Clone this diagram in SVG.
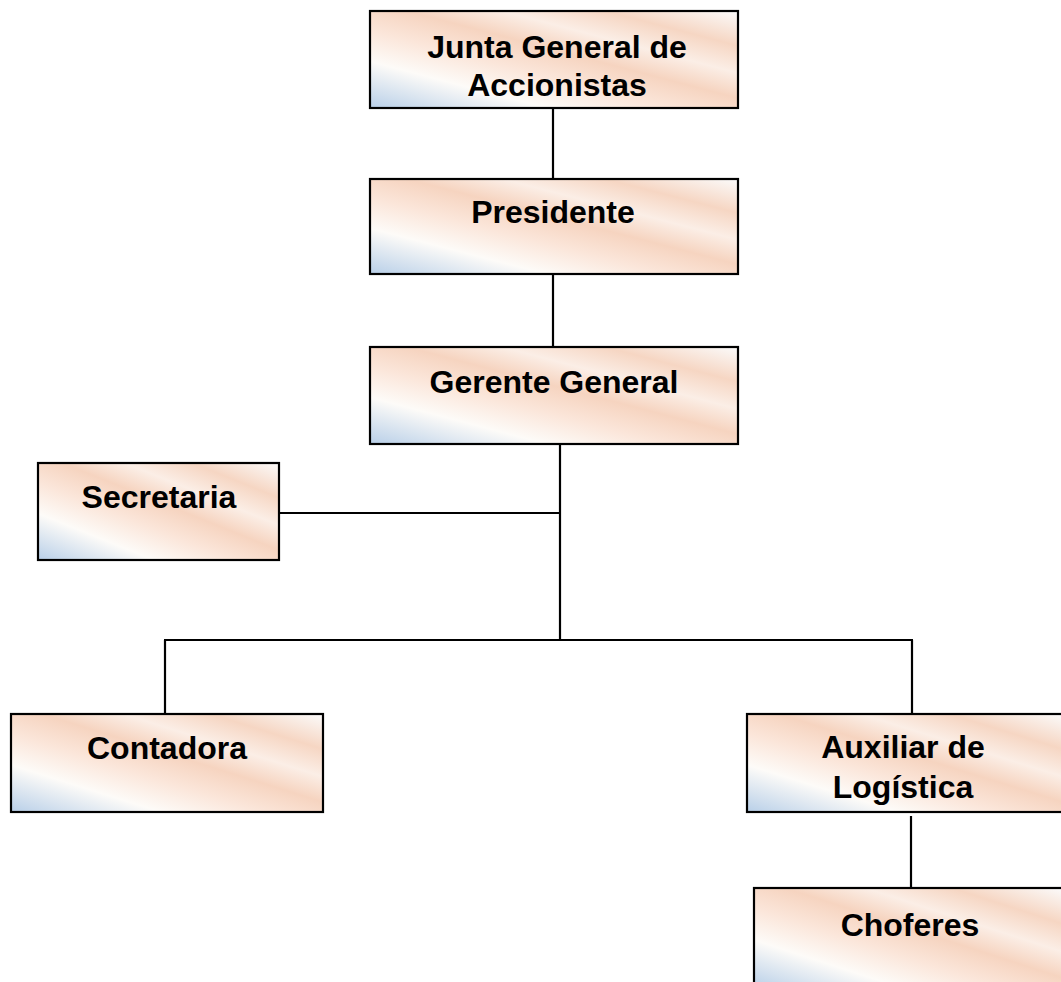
<svg xmlns="http://www.w3.org/2000/svg" width="1061" height="982" viewBox="0 0 1061 982">
<defs>
<linearGradient id="g" x1="0" y1="1" x2="1" y2="0" gradientUnits="objectBoundingBox">
<stop offset="0" stop-color="#b8cfe8"/>
<stop offset="0.24" stop-color="#fdfbf8"/>
<stop offset="0.4" stop-color="#fbe6da"/>
<stop offset="0.55" stop-color="#f6d4c0"/>
<stop offset="0.68" stop-color="#fbeee6"/>
<stop offset="0.82" stop-color="#f6d6c3"/>
<stop offset="1" stop-color="#fbfbfb"/>
</linearGradient>
<style>
.box{fill:url(#g);stroke:#000;stroke-width:2.2}
.t{font-family:"Liberation Sans",Arial,sans-serif;font-weight:bold;font-size:32px;fill:#000;text-anchor:middle}
.c{stroke:#000;stroke-width:2.2;fill:none}
</style>
</defs>
<g id="connectors">
<line class="c" x1="553" y1="108" x2="553" y2="179"/>
<line class="c" x1="553" y1="274" x2="553" y2="347"/>
<line class="c" x1="560" y1="444" x2="560" y2="640"/>
<line class="c" x1="279" y1="513" x2="560" y2="513"/>
<line class="c" x1="164" y1="640" x2="913" y2="640"/>
<line class="c" x1="165" y1="640" x2="165" y2="714"/>
<line class="c" x1="912" y1="640" x2="912" y2="714"/>
<line class="c" x1="911" y1="816" x2="911" y2="888"/>
</g>
<g id="junta">
<rect class="box" x="370" y="11" width="368" height="97"/>
<text class="t" x="557" y="58">Junta General de</text>
<text class="t" x="557" y="96">Accionistas</text>
</g>
<g id="presidente">
<rect class="box" x="370" y="179" width="368" height="95"/>
<text class="t" x="553" y="223">Presidente</text>
</g>
<g id="gerente">
<rect class="box" x="370" y="347" width="368" height="97"/>
<text class="t" x="554" y="393">Gerente General</text>
</g>
<g id="secretaria">
<rect class="box" x="38" y="463" width="241" height="97"/>
<text class="t" x="159" y="508">Secretaria</text>
</g>
<g id="contadora">
<rect class="box" x="11" y="714" width="312" height="98"/>
<text class="t" x="167" y="759">Contadora</text>
</g>
<g id="auxiliar">
<rect class="box" x="747" y="714" width="316" height="98"/>
<text class="t" x="903" y="758">Auxiliar de</text>
<text class="t" x="903" y="798">Logística</text>
</g>
<g id="choferes">
<rect class="box" x="754" y="888" width="309" height="100"/>
<text class="t" x="910" y="936">Choferes</text>
</g>
</svg>
